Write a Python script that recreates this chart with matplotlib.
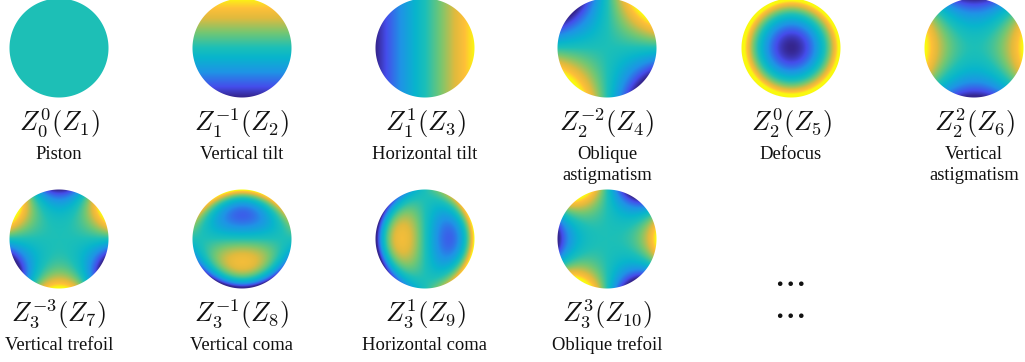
import math
import numpy as np
import matplotlib
matplotlib.use("Agg")
import matplotlib.pyplot as plt
from matplotlib.colors import LinearSegmentedColormap
from matplotlib.patches import PathPatch
from matplotlib.path import Path

# Panel contents
orders_n = [0, 1, 1, 2, 2, 2, 3, 3, 3, 3]
orders_m = [0, -1, 1, -2, 0, 2, -3, -1, 1, 3]
noll = [1, 2, 3, 4, 5, 6, 7, 8, 9, 10]
names = ["Piston", "Vertical tilt", "Horizontal tilt", "Oblique\nastigmatism", "Defocus",
         "Vertical\nastigmatism", "Vertical trefoil", "Vertical coma", "Horizontal coma",
         "Oblique trefoil"]
# colour limits of each panel, judged from where the bands fall in the picture
color_lo = [0, -1, -1, -0.95, -1, -0.95, -0.95, -0.88, -0.88, -0.95]
color_hi = [2, 1, 1, 0.95, 0.8, 0.95, 0.95, 0.88, 0.88, 0.95]

# Layout in reference pixels
W, H = 1025, 362
centers_x = [59, 242, 425, 607, 791, 974, 59, 242, 425, 607]
centers_y = [48, 48, 48, 48, 48, 48, 239, 239, 239, 239]
radius = 49.5
pad = 1.06

parula = LinearSegmentedColormap.from_list("parula", [
    (0.00, (0.21, 0.15, 0.56)),
    (0.10, (0.27, 0.30, 0.92)),
    (0.25, (0.12, 0.58, 0.90)),
    (0.40, (0.03, 0.71, 0.80)),
    (0.50, (0.11, 0.75, 0.72)),
    (0.65, (0.45, 0.78, 0.45)),
    (0.80, (0.88, 0.73, 0.24)),
    (0.90, (1.00, 0.75, 0.22)),
    (1.00, (0.98, 0.98, 0.06)),
])


def zernike(n, m, rho, phi):
    radial = np.zeros_like(rho)
    for k in range((n - abs(m)) // 2 + 1):
        c = (-1) ** k * math.factorial(n - k) / (
            math.factorial(k) * math.factorial((n + abs(m)) // 2 - k) * math.factorial((n - abs(m)) // 2 - k))
        radial += c * rho ** (n - 2 * k)
    if m < 0:
        return radial * np.sin(-m * phi)
    return radial * np.cos(m * phi)


plt.rcParams['mathtext.fontset'] = 'cm'
fig = plt.figure(figsize=(W / 100, H / 100), dpi=100)

x, y = np.meshgrid(np.linspace(-pad, pad, 400), np.linspace(-pad, pad, 400))
rho = np.hypot(x, y)
phi = np.arctan2(y, x)

# white square with a round hole, gives a smoother rim than a clip path
s = pad + 0.1
t = np.linspace(2 * np.pi, 0, 361)
square = [(-s, -s), (s, -s), (s, s), (-s, s), (-s, -s)]
ring = list(zip(np.cos(t), np.sin(t)))
codes = [Path.MOVETO] + [Path.LINETO] * 3 + [Path.CLOSEPOLY] + [Path.MOVETO] + [Path.LINETO] * 359 + [Path.CLOSEPOLY]
mask = Path(square + ring, codes)

for i in range(len(noll)):
    n, m = orders_n[i], orders_m[i]
    cx, cy = centers_x[i], centers_y[i]
    r = radius * pad
    ax = fig.add_axes([(cx - r) / W, 1 - (cy + r) / H, 2 * r / W, 2 * r / H])
    ax.axis("off")
    z = zernike(n, m, rho, phi)
    # blank outside the disc so nothing shows past the mask at the axes edge
    z = np.where(rho > 1.03, np.nan, z)
    ax.imshow(z, origin="lower", extent=(-pad, pad, -pad, pad), cmap=parula, vmin=color_lo[i], vmax=color_hi[i])
    ax.add_patch(PathPatch(mask, fc="white", ec="none"))
    ax.set_xlim(-pad, pad)
    ax.set_ylim(-pad, pad)

    fig.text(cx / W, 1 - (cy + 75) / H, r"$Z_{%d}^{%d}(Z_{%d})$" % (n, m, noll[i]),
             fontsize=19, ha="center", va="center", color="#111111")
    lines = names[i].split("\n")
    for j, line in enumerate(lines):
        fig.text(cx / W, 1 - (cy + 106.5 + j * 21.5) / H, line, family="Liberation Serif",
                 fontsize=13.4, ha="center", va="center", color="#111111")

# the two rows of dots in the last columns
for dots_y in [281, 313]:
    fig.text(789 / W, 1 - dots_y / H, r"$\cdots$", fontsize=26, ha="center", va="center", color="#111111")

fig.savefig("out.png", dpi=100)
